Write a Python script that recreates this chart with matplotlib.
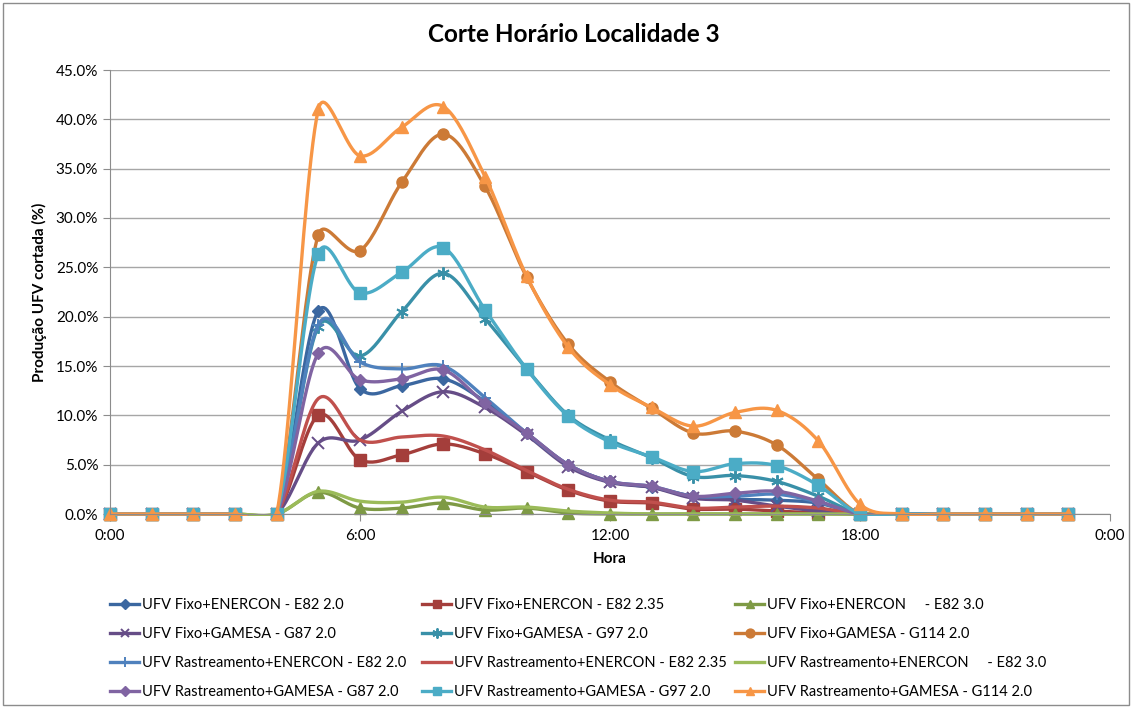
import numpy as np
import matplotlib
matplotlib.use('Agg')
import matplotlib.pyplot as plt
from matplotlib.ticker import PercentFormatter, FixedLocator
from matplotlib.lines import Line2D
from matplotlib.patches import Rectangle

plt.rcParams['font.family'] = ['Lato', 'DejaVu Sans']

# hours of the day
hours = list(range(24))

# curtailed PV production (%), hours 5..18 non-zero, rest zero
def day(vals):
    # vals start at hour 5
    return [0, 0, 0, 0, 0] + list(vals) + [0] * (24 - 5 - len(vals))

fixo_e82_20 = day([20.6, 12.7, 13.0, 13.7, 11.4, 8.2, 5.0, 3.3, 2.7, 1.8, 1.5, 1.4, 1.1, 0.0])
fixo_e82_235 = day([10.0, 5.5, 6.0, 7.1, 6.1, 4.3, 2.4, 1.3, 1.1, 0.5, 0.5, 0.3, 0.1, 0.0])
fixo_e82_30 = day([2.2, 0.6, 0.6, 1.1, 0.4, 0.6, 0.1, 0.0, 0.0, 0.0, 0.0, 0.0, 0.0, 0.0])
fixo_g87 = day([7.2, 7.5, 10.4, 12.4, 10.8, 8.0, 4.8, 3.2, 2.7, 1.6, 1.4, 0.8, 0.3, 0.0])
fixo_g97 = day([19.0, 16.0, 20.5, 24.4, 19.8, 14.7, 10.0, 7.5, 5.7, 3.8, 3.9, 3.3, 1.8, 0.0])
fixo_g114 = day([28.3, 26.7, 33.6, 38.5, 33.2, 24.0, 17.2, 13.4, 10.7, 8.2, 8.4, 7.0, 3.5, 0.0])
rast_e82_20 = day([19.2, 15.4, 14.7, 15.0, 11.8, 8.2, 5.0, 3.3, 2.8, 1.8, 1.8, 2.0, 1.2, 0.0])
rast_e82_235 = day([11.7, 7.5, 7.8, 7.9, 6.5, 4.4, 2.5, 1.4, 1.2, 0.6, 0.7, 0.8, 0.6, 0.0])
rast_e82_30 = day([2.3, 1.3, 1.2, 1.7, 0.7, 0.7, 0.3, 0.1, 0.0, 0.0, 0.0, 0.0, 0.0, 0.0])
rast_g87 = day([16.3, 13.6, 13.7, 14.6, 11.2, 8.2, 5.0, 3.3, 2.8, 1.8, 2.1, 2.3, 1.3, 0.0])
rast_g97 = day([26.4, 22.4, 24.5, 27.0, 20.7, 14.7, 9.9, 7.3, 5.8, 4.3, 5.1, 4.9, 2.9, 0.0])
rast_g114 = day([41.0, 36.3, 39.2, 41.3, 34.2, 24.1, 16.9, 13.1, 10.8, 8.9, 10.3, 10.5, 7.4, 1.0, 0.0])

labels = [
    'UFV Fixo+ENERCON - E82 2.0',
    'UFV Fixo+ENERCON - E82 2.35',
    'UFV Fixo+ENERCON     - E82 3.0',
    'UFV Fixo+GAMESA - G87 2.0',
    'UFV Fixo+GAMESA - G97 2.0',
    'UFV Fixo+GAMESA - G114 2.0',
    'UFV Rastreamento+ENERCON - E82 2.0',
    'UFV Rastreamento+ENERCON - E82 2.35',
    'UFV Rastreamento+ENERCON     - E82 3.0',
    'UFV Rastreamento+GAMESA - G87 2.0',
    'UFV Rastreamento+GAMESA - G97 2.0',
    'UFV Rastreamento+GAMESA - G114 2.0',
]
series = [fixo_e82_20, fixo_e82_235, fixo_e82_30, fixo_g87, fixo_g97, fixo_g114,
          rast_e82_20, rast_e82_235, rast_e82_30, rast_g87, rast_g97, rast_g114]
colors = ['#3B67A0', '#A43E3B', '#7E9A45', '#664D87', '#3990A8', '#CC7A36',
          '#4F81BD', '#C0504D', '#9BBB59', '#8064A2', '#4BACC6', '#F79646']
markers = ['D', 's', '^', 'x', (6, 2, 0), 'o', '+', None, None, 'D', 's', '^']
msizes = [6, 8, 8, 8, 9, 8, 9, 0, 0, 6, 8, 8]


def smooth(x, y, sx=1000.0, sy=986.7, n=24):
    # Excel-like smoothed line: Catmull-Rom bezier, control arms capped at half the segment
    P = np.column_stack([np.asarray(x, float), np.asarray(y, float)]) * np.array([sx, sy])
    N = len(P)
    t = np.linspace(0, 1, n)[:, None]
    out = []
    for i in range(N - 1):
        p0 = P[i - 1] if i > 0 else P[i]
        p1, p2 = P[i], P[i + 1]
        p3 = P[i + 2] if i + 2 < N else P[i + 1]
        d12 = np.hypot(*(p2 - p1))
        a1 = (p2 - p0) / 6
        a2 = (p3 - p1) / 6
        l1, l2 = np.hypot(*a1), np.hypot(*a2)
        if l1 > d12 / 2 and l1 > 0:
            a1 = a1 * (d12 / 2) / l1
        if l2 > d12 / 2 and l2 > 0:
            a2 = a2 * (d12 / 2) / l2
        c1 = p1 + a1
        c2 = p2 - a2
        seg = ((1 - t) ** 3) * p1 + 3 * ((1 - t) ** 2) * t * c1 + 3 * (1 - t) * t ** 2 * c2 + t ** 3 * p2
        out.append(seg if i == 0 else seg[1:])
    out = np.vstack(out) / np.array([sx, sy])
    return out[:, 0], out[:, 1]


def is_thin(m):
    return m in ('x', '+') or isinstance(m, tuple)


fig = plt.figure(figsize=(11.34, 7.07), dpi=100)
ax = fig.add_axes([110 / 1134, 1 - 514 / 707, 1000 / 1134, 444 / 707])

handles = []
for vals, lab, c, m, ms in zip(series, labels, colors, markers, msizes):
    xv = np.array(hours) / 24.0
    yv = np.array(vals) / 100.0
    sx, sy = smooth(xv, yv)
    ln, = ax.plot(sx, sy, color=c, lw=2.4, solid_capstyle='round')
    # plot area clip (a little slack below the axis, like Excel)
    ln.set_clip_path(Rectangle((-0.01, -0.0016), 1.02, 0.5, transform=ax.transData))
    mew = 1.4 if is_thin(m) else 1
    if m is not None:
        ax.plot(xv, yv, ls='none', marker=m, ms=ms, color=c, mec=c, mew=mew, clip_on=False)
    handles.append(Line2D([0], [0], color=c, lw=2.4, marker=m, ms=ms * 0.8, mec=c, mew=mew))

ax.set_xlim(0, 1)
ax.set_ylim(0, 0.45)
ax.xaxis.set_major_locator(FixedLocator([0, 0.25, 0.5, 0.75, 1.0]))
ax.set_xticklabels(['0:00', '6:00', '12:00', '18:00', '0:00'])
ax.set_yticks(np.arange(0, 0.451, 0.05))
ax.yaxis.set_major_formatter(PercentFormatter(1, decimals=1))
ax.grid(axis='y', color='#A6A6A6', lw=1)
ax.set_axisbelow(True)
for s in ['top', 'right']:
    ax.spines[s].set_visible(False)
for s in ['left', 'bottom']:
    ax.spines[s].set_color('#8C8C8C')
ax.tick_params(axis='both', colors='#8C8C8C', labelcolor='black', labelsize=11, length=5)
ax.tick_params(axis='x', pad=6)

ax.set_xlabel('Hora', fontsize=11, fontweight='bold', labelpad=6)
ax.set_ylabel('Produção UFV cortada (%)', fontsize=11, fontweight='bold', labelpad=6)
fig.text(574 / 1134, 1 - 35 / 707, 'Corte Horário Localidade 3', ha='center', va='center',
         fontsize=17.5, fontweight='bold')

# legend: 3 fixed-width columns, filled row by row
col_x = [110, 422, 735]
for j in range(3):
    idx = [j, j + 3, j + 6, j + 9]
    fig.legend([handles[i] for i in idx], [labels[i] for i in idx],
               loc='upper left', bbox_to_anchor=(col_x[j] / 1134, 1 - 598 / 707),
               frameon=False, fontsize=10.5, handlelength=2.0, handletextpad=0.2,
               labelspacing=1.03, borderaxespad=0, borderpad=0)

fig.patches.append(Rectangle((3 / 1134, 2 / 707), 1126 / 1134, 702 / 707, transform=fig.transFigure,
                             fill=False, edgecolor='#8C8C8C', lw=1))

fig.savefig('out.png', dpi=100)
